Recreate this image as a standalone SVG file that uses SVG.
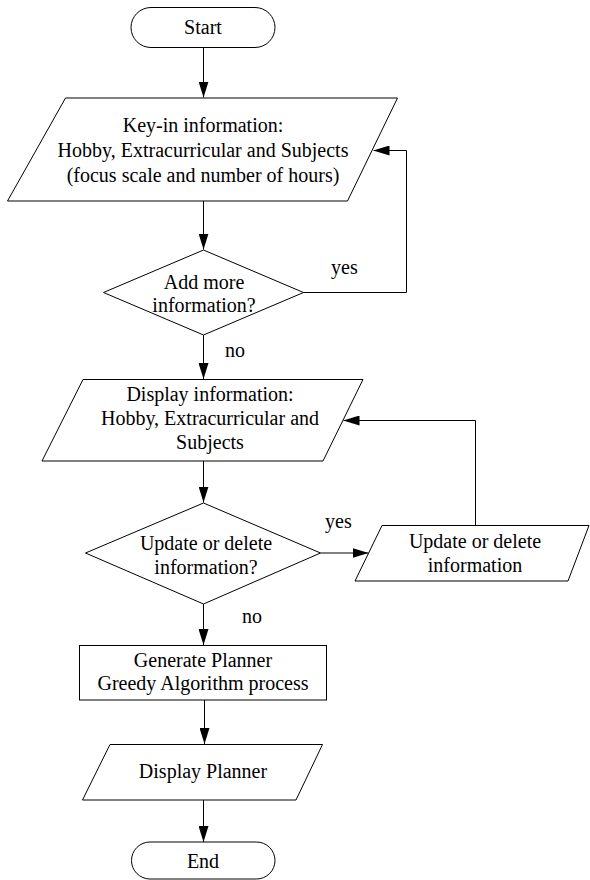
<svg xmlns="http://www.w3.org/2000/svg" width="590" height="880" viewBox="0 0 590 880">
<style>
.s{fill:#fff;stroke:#000;stroke-width:1}
.t{font-family:"Liberation Serif","Times New Roman",serif;font-size:20px;fill:#000;text-anchor:middle}
.l{font-family:"Liberation Serif","Times New Roman",serif;font-size:20px;fill:#000}
.c{fill:none;stroke:#000;stroke-width:1}
</style>
<defs>
<marker id="a" markerUnits="userSpaceOnUse" markerWidth="16" markerHeight="10" refX="16" refY="5" orient="auto">
<path d="M0,0 L16,5 L0,10 z" fill="#000"/>
</marker>
</defs>
<rect width="590" height="880" fill="#fff"/>
<g id="connectors">
<path class="c" d="M203.5,48 V97.5" marker-end="url(#a)"/>
<path class="c" d="M203.5,201 V249.5" marker-end="url(#a)"/>
<path class="c" d="M303.5,292.5 H406.5 V150.5 H373.5" marker-end="url(#a)"/>
<path class="c" d="M203.5,335 V379" marker-end="url(#a)"/>
<path class="c" d="M203.5,461 V502.5" marker-end="url(#a)"/>
<path class="c" d="M320.5,553 H368.5" marker-end="url(#a)"/>
<path class="c" d="M475.5,525 V420.5 H343.5" marker-end="url(#a)"/>
<path class="c" d="M203.5,604 V645" marker-end="url(#a)"/>
<path class="c" d="M204.5,700 V744" marker-end="url(#a)"/>
<path class="c" d="M203.5,800 V842" marker-end="url(#a)"/>
<text class="l" x="331" y="274">yes</text>
<text class="l" x="225" y="357">no</text>
<text class="l" x="325" y="528">yes</text>
<text class="l" x="242" y="623">no</text>
</g>
<g id="start">
<rect class="s" x="131" y="7.5" width="144" height="40" rx="20" ry="20"/>
<text class="t" x="203" y="34">Start</text>
</g>
<g id="keyin">
<polygon class="s" points="65.5,98 397.5,98 347.5,201 7.5,201"/>
<text class="t" x="203" y="132">Key-in information:</text>
<text class="t" x="203" y="157">Hobby, Extracurricular and Subjects</text>
<text class="t" x="203" y="182">(focus scale and number of hours)</text>
</g>
<g id="addmore">
<polygon class="s" points="203.5,250 303.5,292.5 203.5,335 103.5,292.5"/>
<text class="t" x="204" y="289">Add more</text>
<text class="t" x="204" y="312">information?</text>
</g>
<g id="display">
<polygon class="s" points="83,379.5 363,379.5 323,461 42,461"/>
<text class="t" x="210" y="401">Display information:</text>
<text class="t" x="210" y="425">Hobby, Extracurricular and</text>
<text class="t" x="210" y="449">Subjects</text>
</g>
<g id="updatedecision">
<polygon class="s" points="203.5,503 320.5,553 203.5,604 85.5,553"/>
<text class="t" x="206" y="550">Update or delete</text>
<text class="t" x="206" y="574">information?</text>
</g>
<g id="update">
<polygon class="s" points="382,525.5 589,525.5 568,581 355,581"/>
<text class="t" x="475" y="548">Update or delete</text>
<text class="t" x="475" y="572">information</text>
</g>
<g id="generate">
<rect class="s" x="79.5" y="645.5" width="247" height="54.5"/>
<text class="t" x="203" y="667">Generate Planner</text>
<text class="t" x="203" y="690">Greedy Algorithm process</text>
</g>
<g id="displayplanner">
<polygon class="s" points="110,744.5 322.5,744.5 296,800 82.5,800"/>
<text class="t" x="203" y="778">Display Planner</text>
</g>
<g id="end">
<rect class="s" x="131.5" y="842" width="143.5" height="37" rx="18.5" ry="18.5"/>
<text class="t" x="203" y="867.5">End</text>
</g>
</svg>
